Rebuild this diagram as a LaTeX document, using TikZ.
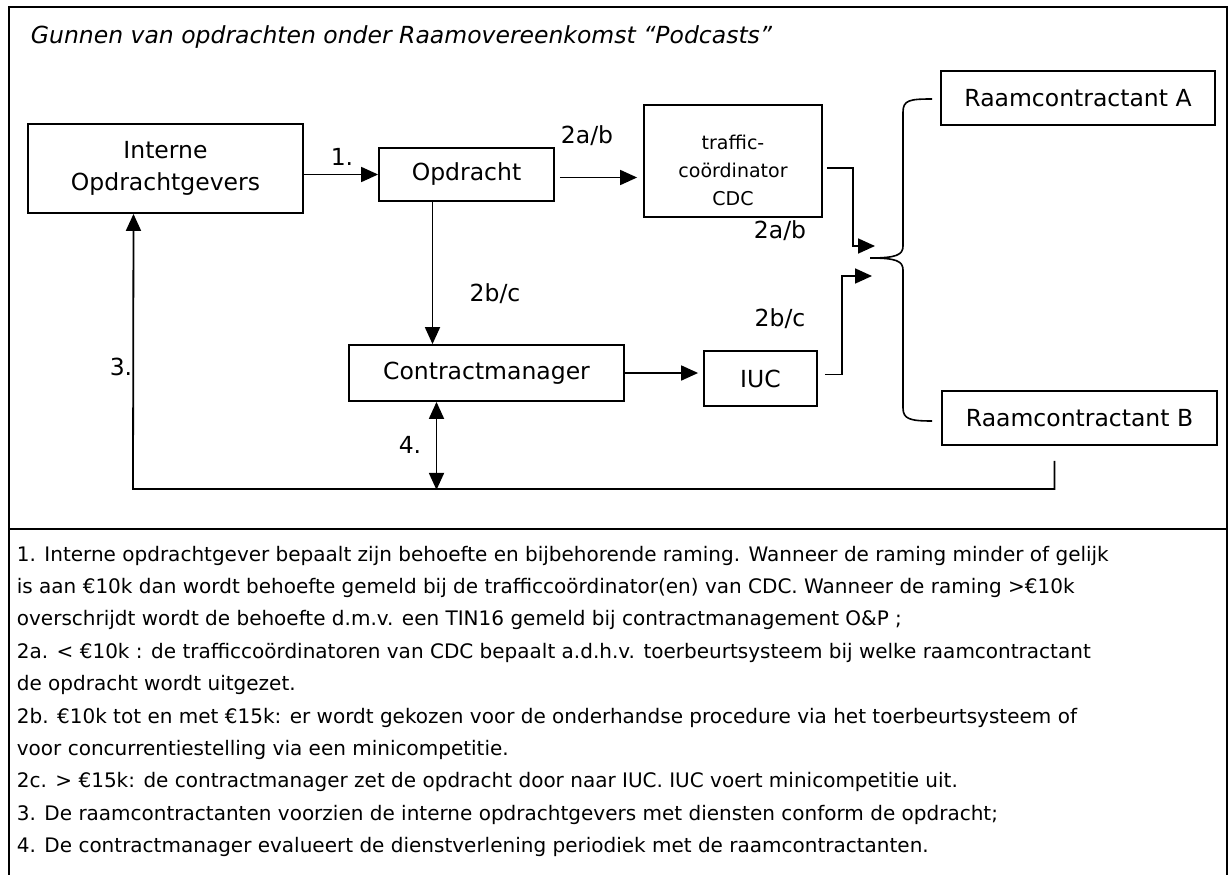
\documentclass[tikz,border=0pt]{standalone}
\usepackage{fontspec}
\setmainfont{DejaVu Sans}
\usetikzlibrary{arrows.meta, positioning, calc}

\begin{document}
\begin{tikzpicture}[x=1pt, y=-1pt, line width=1.8pt,
    font=\fontsize{23.5}{32}\selectfont,
    box/.style={draw, rectangle, inner sep=2pt, align=center},
    arr/.style={-{Triangle[length=17pt, width=15pt]}},
    arrboth/.style={{Triangle[length=17pt, width=15pt]}-{Triangle[length=17pt, width=15pt]}},
    lbl/.style={inner sep=0pt}]
    \useasboundingbox (0,0) rectangle (1230,875);
    \draw (9,7) rectangle (1227,529);
    \draw (9,529) -- (9,875) (1227,529) -- (1227,875);
    \draw[line width=2.5pt] (9,529) -- (1227,529);

    \node[lbl, anchor=west, font=\fontsize{23.5}{28}\selectfont\itshape] (title) at (30,37) {Gunnen van opdrachten onder Raamovereenkomst “Podcasts”};

    \node[box, minimum width=275pt, minimum height=89pt] (interne) at (165.5,168.5) {Interne\\Opdrachtgevers};
    \node[box, minimum width=175pt, minimum height=53pt] (opdracht) at (466.5,174.5) {Opdracht};
    \node[box, minimum width=178pt, minimum height=112pt, font=\fontsize{19}{28}\selectfont] (traffic) at (733,161) {\rule{0pt}{34pt}traffic-\\coördinator\\CDC};
    \node[box, minimum width=274pt, minimum height=54pt] (raamA) at (1078,98) {Raamcontractant A};
    \node[box, minimum width=275pt, minimum height=54pt] (raamB) at (1079.5,418) {Raamcontractant B};
    \node[box, minimum width=275pt, minimum height=56pt] (cm) at (486.5,373) {Contractmanager};
    \node[box, minimum width=113pt, minimum height=55pt] (iuc) at (760.5,378.5) {IUC};

    \node[lbl] (l1) at (342,157) {1.};
    \node[lbl] (l2ab) at (587,136) {2a/b};
    \node[lbl] (l2abtwo) at (780,231) {2a/b};
    \node[lbl] (l2bc) at (495,294) {2b/c};
    \node[lbl] (l2bctwo) at (780,319) {2b/c};
    \node[lbl] (l3) at (121,367) {3.};
    \node[lbl] (l4) at (410,445) {4.};

    \coordinate (inA) at (875,246);
    \coordinate (inB) at (872,276);
    \coordinate (tip) at (870,258);
    \coordinate (fb) at (133,489);

    \draw[arr] (interne.east |- opdracht.west) -- (opdracht.west);
    \draw[arr] ($(opdracht.east)+(5,3)$) -- ($(traffic.west |- opdracht.east)+(-6,3)$);
    \draw[arr] ($(traffic.east)+(4,7)$) -- ++(26,0) |- (inA);
    \draw[arr] ($(opdracht.south)+(-34,0)$) -- ($(cm.north)+(-54,0)$);
    \draw[arr] (cm.east) -- ($(iuc.west |- cm.east)+(-5,0)$);
    \draw[arr] ($(iuc.east)+(7,-4)$) -- ++(17,0) |- (inB);
    \draw[arr] ($(raamB.south)+(-25,15)$) |- (fb) -- ($(interne.south)+(-32,0)$);
    \draw[arrboth] ($(cm.south)+(-50,0)$) -- ++(0,88);

    \draw[line width=1.6pt] ($(raamA.west)+(-8,1)$) .. controls (910,99) and (903,100) .. (903,112) -- (903,246)
        .. controls (903,255) and (896,258) .. (tip) .. controls (896,258) and (903,261) .. (903,270) -- (903,408)
        .. controls (903,419) and (910,421) .. ($(raamB.west)+(-9,3)$);

    \foreach \txt [count=\i from 0] in {
        {1. Interne opdrachtgever bepaalt zijn behoefte en bijbehorende raming. Wanneer de raming minder of gelijk},
        {is aan €10k dan wordt behoefte gemeld bij de trafficcoördinator(en) van CDC. Wanneer de raming >€10k},
        {overschrijdt wordt de behoefte d.m.v. een TIN16 gemeld bij contractmanagement O\&P ;},
        {2a. < €10k : de trafficcoördinatoren van CDC bepaalt a.d.h.v. toerbeurtsysteem bij welke raamcontractant},
        {de opdracht wordt uitgezet.},
        {2b. €10k tot en met €15k: er wordt gekozen voor de onderhandse procedure via het toerbeurtsysteem of},
        {voor concurrentiestelling via een minicompetitie.},
        {2c. > €15k: de contractmanager zet de opdracht door naar IUC. IUC voert minicompetitie uit.},
        {3. De raamcontractanten voorzien de interne opdrachtgevers met diensten conform de opdracht;},
        {4. De contractmanager evalueert de dienstverlening periodiek met de raamcontractanten.}}
        \node[lbl, anchor=base west, font=\fontsize{20}{24}\selectfont] (legend\i) at (16,561+32.4*\i) {\txt};
\end{tikzpicture}
\end{document}
